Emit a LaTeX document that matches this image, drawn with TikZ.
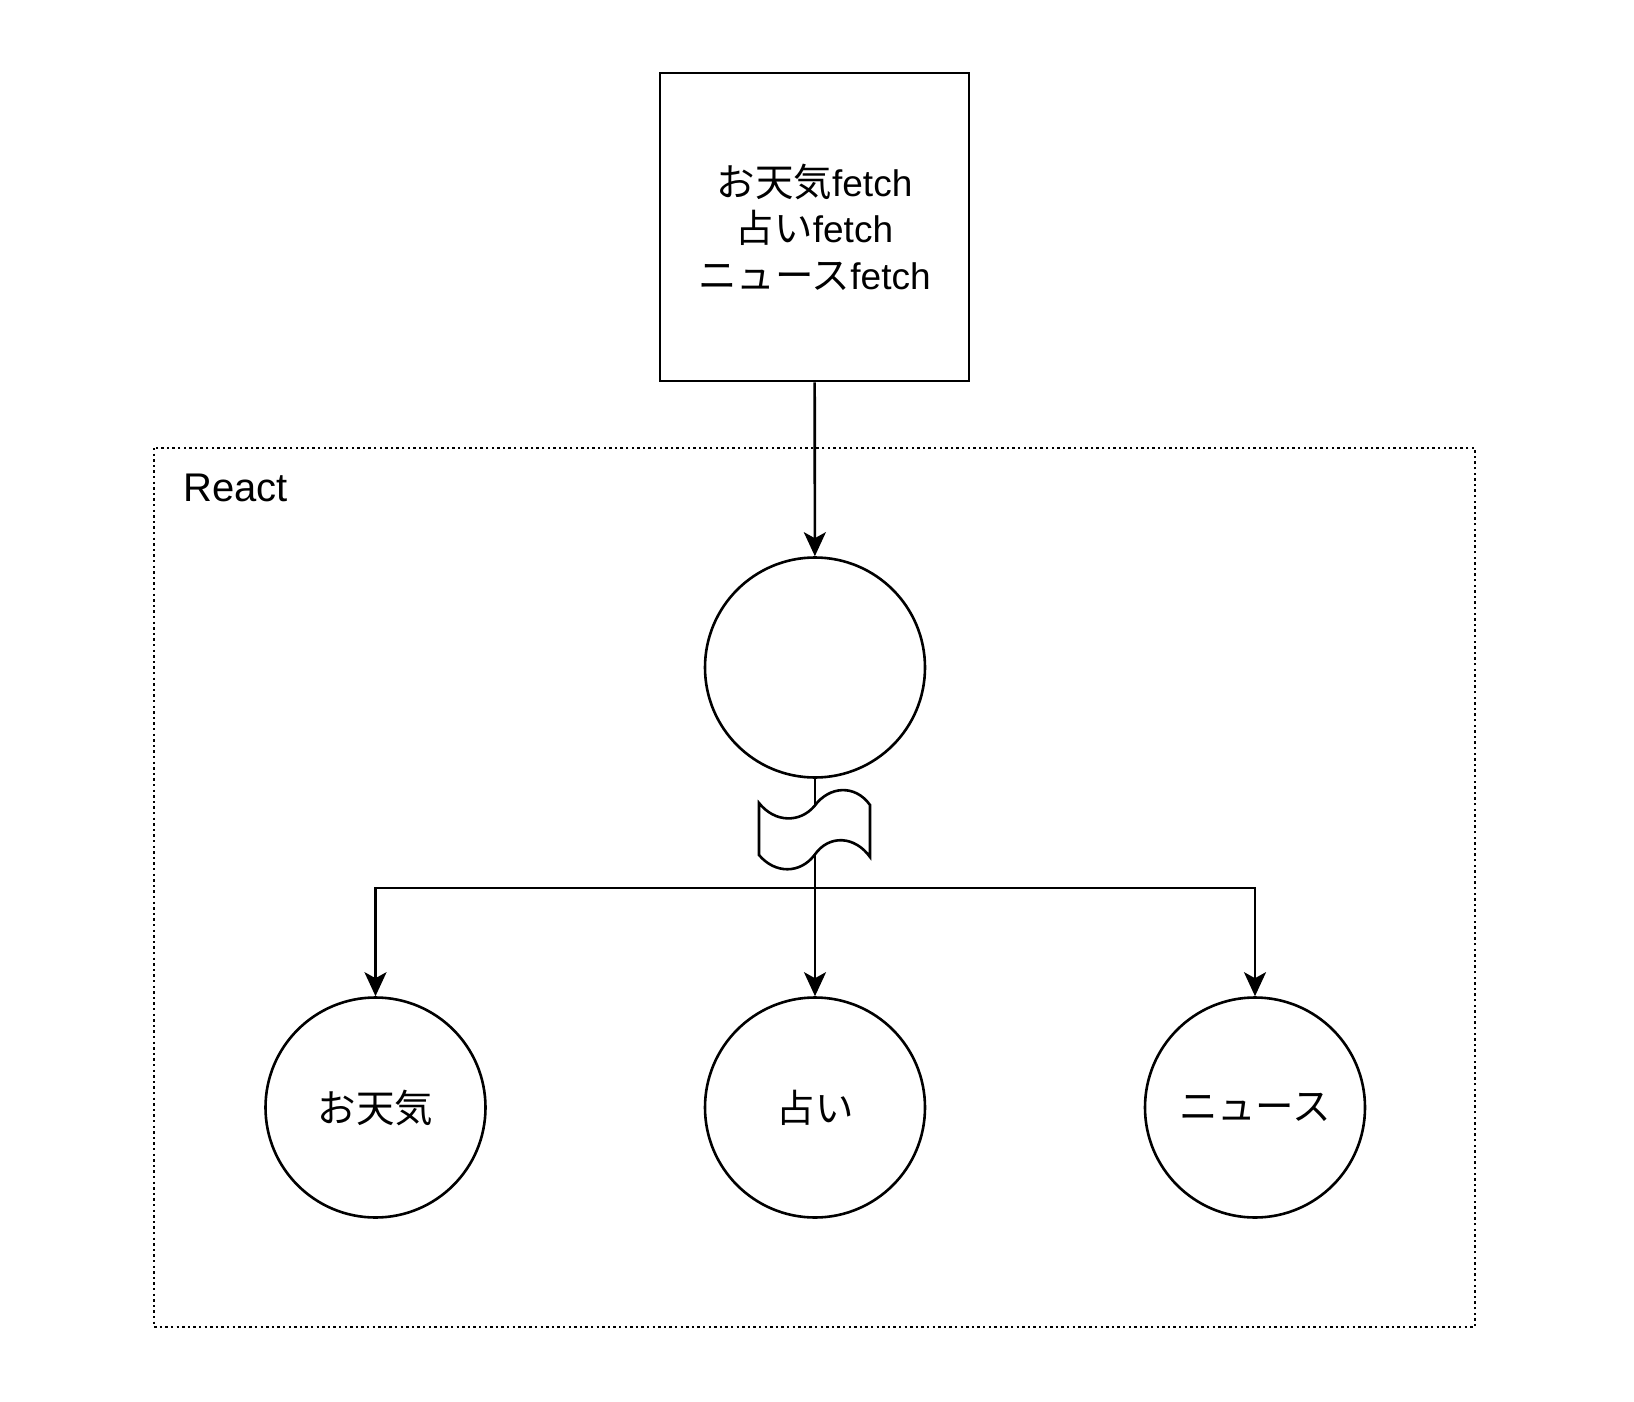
\documentclass[tikz,border=0pt]{standalone}
\usepackage{fontspec}
\setmainfont{Liberation Sans}
\newfontfamily\jp{Noto Sans CJK JP}[Scale=1.04]
\usetikzlibrary{arrows.meta}

\begin{document}
\begin{tikzpicture}[x=1pt, y=-1pt,
        fetchbox/.style={draw, line width=2.6pt, minimum width=309pt, minimum height=308pt, inner sep=0pt, align=center, font=\fontsize{37}{46.5}\selectfont},
        comp/.style={draw, circle, line width=2.6pt, minimum size=220pt, inner sep=0pt, font=\fontsize{37}{46.5}\selectfont},
        conn/.style={line width=2.6pt, -{Stealth[length=24pt, width=22pt, inset=6pt]}},
        frame/.style={line width=2.6pt, dash pattern=on 2.4pt off 3.2pt}]
        \useasboundingbox (0,0) rectangle (1634,1402);

        \draw[frame] (154,448) rectangle (1475,1327);
        \node[anchor=base west, inner sep=0pt, font=\fontsize{40}{46}\selectfont] (react) at (183,501) {React};

        \node[fetchbox] (fetch) at (814.5,227) {{\jp お天気}fetch\\{\jp 占い}fetch\\{\jp ニュース}fetch};

        \node[comp] (root) at (815,667.5) {};
        \node[comp] (weather) at (375.5,1107.5) {\jp お天気};
        \node[comp] (fortune) at (815,1107.5) {\jp 占い};
        \node[comp] (news) at (1255,1107.5) {\jp ニュース};

        \coordinate (split) at (815,888);

        \draw[conn] (fetch) -- (root);
        \draw[conn] (root) -- (split) -| (weather);
        \draw[conn] (root) -- (fortune);
        \draw[conn] (root) -- (split) -| (news);

        % break mark
        \draw[line width=2.6pt, fill=white] (759,803) .. controls (775,823) and (800,823) .. (814.5,806)
            .. controls (829,786) and (855,784) .. (870,805) -- (870,857)
            .. controls (855,836) and (829,834) .. (814.5,855)
            .. controls (800,874) and (775,874) .. (759,855) -- cycle;
    \end{tikzpicture}
\end{document}
